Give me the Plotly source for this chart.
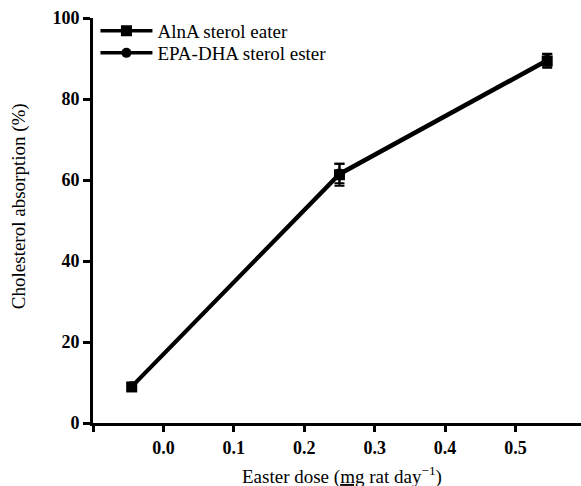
import plotly.graph_objects as go

dose = [-0.045, 0.25, 0.545]
alna = [8.9, 61.3, 89.4]
alna_err = [0.8, 2.7, 1.7]
epa = [9.1, 61.6, 89.7]
epa_err = [0.8, 2.4, 1.5]
xtick_vals = [-0.1, 0.0, 0.1, 0.2, 0.3, 0.4, 0.5]
xtick_text = ["", "0.0", "0.1", "0.2", "0.3", "0.4", "0.5"]
ytick_vals = [0, 20, 40, 60, 80, 100]

FAM = "Liberation Serif"

fig = go.Figure()
fig.add_trace(go.Scatter(
    x=dose, y=epa, name="EPA-DHA sterol ester", mode="lines+markers",
    line=dict(color="black", width=3.5),
    marker=dict(symbol="circle", size=10, color="black"),
    error_y=dict(type="data", array=epa_err, color="black", thickness=2, width=5),
    legend="legend2",
))
fig.add_trace(go.Scatter(
    x=dose, y=alna, name="AlnA sterol eater", mode="lines+markers",
    line=dict(color="black", width=3.5),
    marker=dict(symbol="square", size=11, color="black"),
    error_y=dict(type="data", array=alna_err, color="black", thickness=2, width=5),
    legend="legend",
))

leg_common = dict(xanchor="left", yanchor="middle", bgcolor="rgba(0,0,0,0)",
                  font=dict(family=FAM, size=19, color="black"),
                  itemwidth=52, borderwidth=0)

fig.update_layout(
    width=581, height=486,
    margin=dict(l=93, r=0, t=18, b=63),
    paper_bgcolor="white", plot_bgcolor="white",
    font=dict(family=FAM, size=18, color="black"),
    showlegend=True,
    legend=dict(x=0.005, y=0.968, **leg_common),
    legend2=dict(x=0.005, y=0.9136, **leg_common),
    xaxis=dict(
        range=[-0.1, 0.593], showgrid=False, zeroline=False,
        showline=True, linecolor="black", linewidth=3,
        ticks="outside", ticklen=6, tickwidth=2.5, tickcolor="black",
        tickvals=xtick_vals, ticktext=["<b>%s</b>" % t if t else "" for t in xtick_text],
        tickfont=dict(family=FAM, size=18, color="black"),
    ),
    yaxis=dict(
        range=[0, 100], showgrid=False, zeroline=False,
        showline=True, linecolor="black", linewidth=3,
        ticks="outside", ticklen=7, tickwidth=2.5, tickcolor="black",
        tickvals=ytick_vals, ticktext=["<b>%d</b>" % v for v in ytick_vals],
        tickfont=dict(family=FAM, size=18, color="black"),
    ),
    annotations=[
        dict(text="Easter dose (<u>mg</u> rat day<sup>−1</sup>)",
             xref="paper", yref="paper", x=0.51, y=-0.13,
             xanchor="center", yanchor="middle", showarrow=False,
             font=dict(family=FAM, size=19, color="black")),
        dict(text="Cholesterol absorption (%)", textangle=-90,
             xref="paper", yref="paper", x=-0.15, y=0.535,
             xanchor="center", yanchor="middle", showarrow=False,
             font=dict(family=FAM, size=19, color="black")),
    ],
)

fig.write_html("out.html", config={"displayModeBar": False},
               post_script="document.body.style.margin='0';")
